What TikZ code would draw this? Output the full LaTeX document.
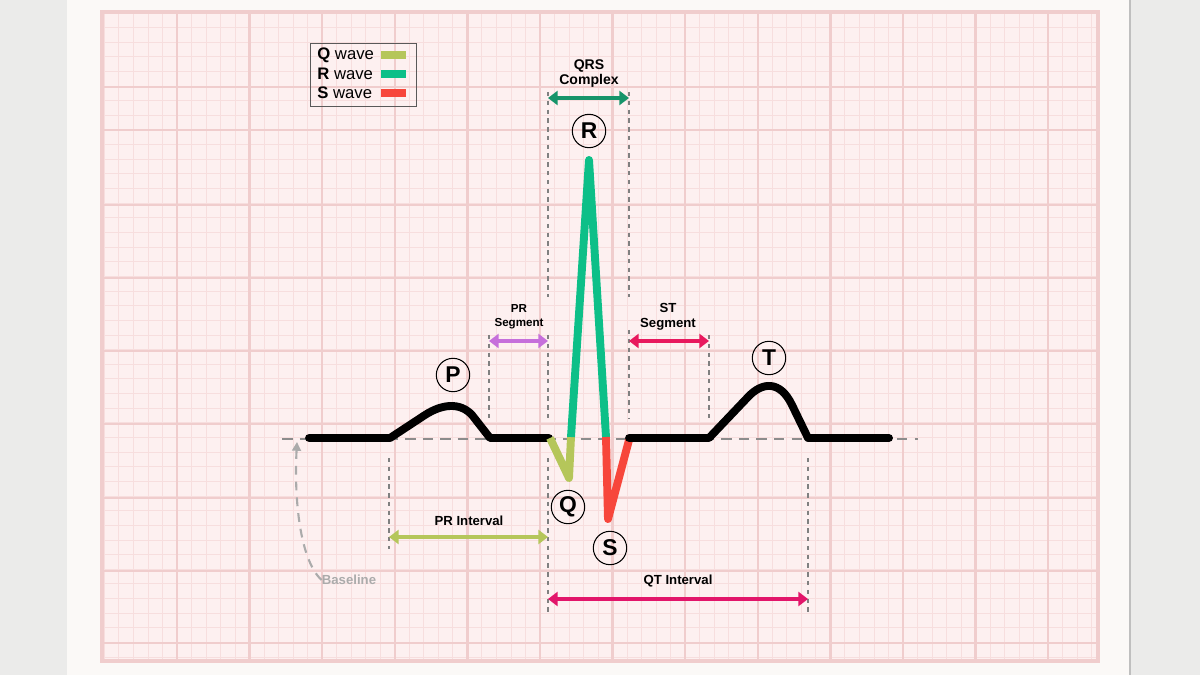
\documentclass[tikz,border=0pt]{standalone}
\usepackage{fontspec}
\setmainfont{Liberation Sans}
\usetikzlibrary{arrows.meta}

\definecolor{deskgray}{HTML}{EBEBEA}
\definecolor{paper}{HTML}{FBF9F7}
\definecolor{gridbg}{HTML}{FDF0F0}
\definecolor{gridminor}{HTML}{F7DEDE}
\definecolor{gridmajor}{HTML}{F0CDCD}
\definecolor{qcol}{HTML}{B5C65A}
\definecolor{rcol}{HTML}{0DBF88}
\definecolor{scol}{HTML}{F7463B}
\definecolor{qrscol}{HTML}{16946A}
\definecolor{prsegcol}{HTML}{C66FDB}
\definecolor{stcol}{HTML}{E8195E}
\definecolor{qtcol}{HTML}{E2156A}
\definecolor{basecol}{HTML}{ABABAB}

\tikzset{
  trace/.style={line width=4.5pt, line join=round},
  guide/.style={draw=black!50, line width=0.6pt, dash pattern=on 2.5pt off 2.5pt},
  span/.style={line width=2.2pt,
    {Triangle[length=5.5pt,width=8pt]}-{Triangle[length=5.5pt,width=8pt]}},
  wavelbl/.style={circle, draw, line width=0.6pt, minimum size=19pt, inner sep=0pt,
    font=\bfseries\fontsize{13}{13}\selectfont},
  lbl/.style={font=\bfseries\fontsize{7.5}{8.6}\selectfont, align=center, inner sep=0pt},
  legendtxt/.style={anchor=west, inner sep=0pt, font=\fontsize{9.5}{10}\selectfont},
}

\begin{document}
\begin{tikzpicture}[x=0.02cm, y=-0.02cm]
  \useasboundingbox (0,0) rectangle (1200,675);
  % desk and sheet
  \fill[deskgray] (0,0) rectangle (1200,675);
  \fill[paper] (67,0) rectangle (1129,675);
  \draw[black!25, line width=1pt] (1130,0) -- (1130,675);

  % ECG paper grid
  \fill[gridbg] (102,12) rectangle (1098,661);
  \foreach \i in {0,...,68} {
    \draw[gridminor, line width=0.5pt] ({104.4+14.52*\i},12) -- ({104.4+14.52*\i},661);
  }
  \foreach \j in {0,...,44} {
    \draw[gridminor, line width=0.5pt] (102,{12.9+14.64*\j}) -- (1098,{12.9+14.64*\j});
  }
  \foreach \k in {0,...,12} {
    \draw[gridmajor, line width=1.3pt] ({177+72.6*\k},12) -- ({177+72.6*\k},661);
  }
  \foreach \y in {87,130,205,278,351,424,498,571,643} {
    \draw[gridmajor, line width=1.3pt] (102,\y) -- (1098,\y);
  }
  \draw[gridmajor, line width=2.2pt] (102,12) rectangle (1098,661);

  % legend
  \draw[black!65, line width=0.5pt] (310,43) rectangle (416,106);
  \node[legendtxt] (qleg) at (317,55) {\textbf{Q} wave};
  \node[legendtxt] (rleg) at (317,74) {\textbf{R} wave};
  \node[legendtxt] (sleg) at (317,93) {\textbf{S} wave};
  \draw[qcol, line width=4pt] (381,55) -- (406,55);
  \draw[rcol, line width=4pt] (381,74) -- (406,74);
  \draw[scol, line width=4pt] (381,93) -- (406,93);

  % baseline
  \draw[black!45, line width=0.8pt, dash pattern=on 6pt off 4pt] (282,439) -- (918,439);

  % guide lines
  \draw[guide] (548,92) -- (548,297);
  \draw[guide] (629,92) -- (629,297);
  \draw[guide] (489,335) -- (489,419);
  \draw[guide] (548,335) -- (548,419);
  \draw[guide] (629,330) -- (629,419);
  \draw[guide] (709,335) -- (709,419);
  \draw[guide] (389,458) -- (389,549);
  \draw[guide] (548,458) -- (548,613);
  \draw[guide] (808,458) -- (808,613);

  % ECG trace
  \draw[trace, line cap=round] (309,438) -- (390,438)
    -- (425,415) .. controls (442,404) and (460,402) .. (472,415) -- (490,438) -- (549,438);
  \draw[trace, qcol] (550,438) -- (569,478) -- (571,437);
  \draw[trace, rcol] (571,437) -- (589,160) -- (606,437);
  \draw[trace, scol] (606,437) -- (608,519) -- (629,440);
  \draw[trace, line cap=round] (629,438) -- (709,438)
    -- (748,397) .. controls (762,382) and (780,380) .. (792,405) -- (808,438) -- (889,438);

  % wave letters
  \node[wavelbl] (pw) at (453,375) {P};
  \node[wavelbl] (rw) at (589,131) {R};
  \node[wavelbl] (tw) at (769,358) {T};
  \node[wavelbl] (qw) at (568,507) {Q};
  \node[wavelbl] (sw) at (610,548) {S};

  % spans
  \coordinate (qrsL) at (548,98);
  \coordinate (qrsR) at (629,98);
  \coordinate (prsL) at (489,341);
  \coordinate (prsR) at (548,341);
  \coordinate (stL) at (629,341);
  \coordinate (stR) at (709,341);
  \coordinate (priL) at (389,537);
  \coordinate (priR) at (548,537);
  \coordinate (qtL) at (548,599);
  \coordinate (qtR) at (808,599);
  \draw[span, qrscol] (qrsL) -- (qrsR);
  \draw[span, prsegcol] (prsL) -- (prsR);
  \draw[span, stcol] (stL) -- (stR);
  \draw[span, qcol] (priL) -- (priR);
  \draw[span, qtcol] (qtL) -- (qtR);

  \node[lbl, font=\bfseries\fontsize{8}{8.6}\selectfont] (qrstxt) at (589,74) {QRS\\Complex};
  \node[lbl, font=\bfseries\fontsize{6.6}{8}\selectfont] (prstxt) at (519,317) {PR\\Segment};
  \node[lbl] (sttxt) at (668,317) {ST\\Segment};
  \node[lbl] (pritxt) at (469,521) {PR Interval};
  \node[lbl] (qttxt) at (678,581) {QT Interval};

  % baseline pointer
  \node[lbl, text=basecol] (basetxt) at (349,580) {Baseline};
  \coordinate (basetip) at (297,442);
  \draw[basecol, line width=1.2pt, dash pattern=on 5pt off 4pt, -{Triangle[length=5pt,width=5pt]}]
    (basetxt.west) .. controls (300,560) and (294,500) .. (basetip);
\end{tikzpicture}
\end{document}
